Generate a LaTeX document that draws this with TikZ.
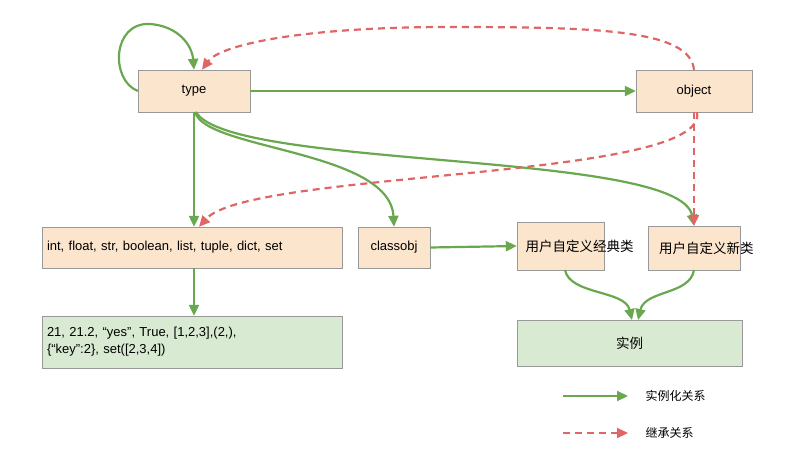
\documentclass[tikz,border=0pt]{standalone}
\usepackage{fontspec}
\setmainfont{Liberation Sans}
\newfontfamily\cjk{Noto Sans CJK SC}
\usetikzlibrary{arrows.meta}
\definecolor{peach}{HTML}{FCE5CD}
\definecolor{lgreen}{HTML}{D9EAD3}
\definecolor{gline}{HTML}{6AA84F}
\definecolor{rline}{HTML}{E06666}
\begin{document}
\begin{tikzpicture}[x=1pt,y=-1pt,
  fnt/.style={font=\fontsize{13}{17}\selectfont},
  cfnt/.style={font=\cjk\fontsize{13.5}{18}\selectfont},
  box/.style={draw=gray!80,fill=peach,inner sep=0,fnt},
  gbox/.style={draw=gray!80,fill=lgreen,inner sep=0,fnt},
  inst/.style={draw=gline,line width=2.2pt,-{Triangle[length=11pt,width=10pt]}},
  inh/.style={draw=rline,line width=2.2pt,dash pattern=on 7pt off 5pt,-{Triangle[length=11pt,width=10pt]}}]
\useasboundingbox (0,0) rectangle (800,450);
\node[box,minimum width=112,minimum height=42] (type) at (194,91) {type};
\node[box,minimum width=116,minimum height=42] (object) at (694,91) {object};
\node[box,minimum width=300,minimum height=41,text width=290,align=left] (int) at (192,247.5) {int, float, str, boolean, list, tuple, dict, set};
\node[box,minimum width=72,minimum height=41] (cls) at (394,247.5) {classobj};
\node[box,cfnt,minimum width=87,minimum height=48,text width=70,align=left] (old) at (560.5,246) {用户自定义经典类};
\node[box,cfnt,minimum width=92,minimum height=44,text width=70,align=left] (new) at (694,248) {用户自定义新类};
\node[gbox,minimum width=300,minimum height=52,text width=290,align=left] (lit) at (192,342) {21, 21.2, “yes”, True, [1,2,3],(2,),\\\{“key”:2\}, set([2,3,4])};
\node[gbox,cfnt,minimum width=225,minimum height=46] (ins) at (629.5,343) {实例};
\coordinate (l1a) at (563,396); \coordinate (l1b) at (628,396);
\coordinate (l2a) at (563,433); \coordinate (l2b) at (628,433);
\node[font=\cjk\fontsize{12}{14}\selectfont,anchor=west] (t1) at (642,396) {实例化关系};
\node[font=\cjk\fontsize{12}{14}\selectfont,anchor=west] (t2) at (642,433) {继承关系};
\draw[inst] (l1a) -- (l1b);
\draw[inh] (l2a) -- (l2b);
% arrows
\draw[inst] (type.west) .. controls (110,80) and (112,22) .. (150,24) .. controls (178,26) and (192,45) .. (type.north);
\draw[inh] (object.north) .. controls (690,30) and (600,27) .. (450,27) .. controls (300,27) and (220,45) .. ([xshift=8]type.north);
\draw[inst] (type.east) -- (object.west);
\draw[inst] (type.south) -- ([xshift=2]int.north);
\draw[inst] (195,112) .. controls (205,150) and (390,150) .. (cls.north);
\draw[inst] (196,112) .. controls (230,170) and (680,150) .. (new.north);
\draw[inh] ([xshift=3]object.south) .. controls (710,180) and (250,170) .. ([xshift=7]int.north);
\draw[inh] (object.south) -- (new.north);
\draw[inst] (cls.east) -- (old.west);
\draw[inst] ([xshift=2]int.south) -- ([xshift=2]lit.north);
\draw[inst] (565,270) .. controls (570,295) and (625,290) .. (632,320);
\draw[inst] (694,270) .. controls (690,295) and (645,290) .. (638,320);
\end{tikzpicture}
\end{document}
